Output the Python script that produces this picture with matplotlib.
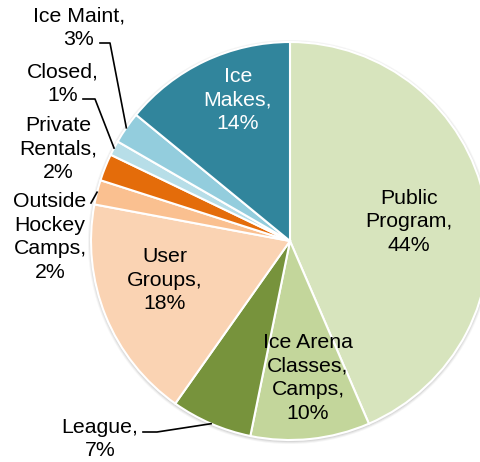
import numpy as np
import matplotlib.pyplot as plt
from matplotlib.patches import Circle

plt.rcParams['font.family'] = ['Liberation Sans', 'DejaVu Sans']

# data (clockwise from 12 o'clock)
categories = ['Public Program', 'Ice Arena Classes, Camps', 'League', 'User Groups',
              'Outside Hockey Camps', 'Private Rentals', 'Closed', 'Ice Maint', 'Ice Makes']
values = [43.6, 9.7, 6.6, 18.2, 2.0, 2.2, 1.2, 2.6, 14.1]
label_texts = ['Public\nProgram,\n44%', 'Ice Arena\nClasses,\nCamps,\n10%', 'League,\n7%',
               'User\nGroups,\n18%', 'Outside\nHockey\nCamps,\n2%', 'Private\nRentals,\n2%',
               'Closed,\n1%', 'Ice Maint,\n3%', 'Ice\nMakes,\n14%']
colors = ['#D7E4BD', '#C3D69B', '#77933C', '#FAD3B3', '#FAC090', '#E46C0A',
          '#B7DEE8', '#93CDDD', '#31859C']

W, H = 481, 462
cx, cy, R = 290, H - 241, 199

fig = plt.figure(figsize=(W / 100, H / 100), dpi=100)
ax = fig.add_axes([0, 0, 1, 1])

# soft shadow round the pie
for dr, a in [(3, 0.15), (2, 0.25), (1, 0.4)]:
    ax.add_patch(Circle((cx, cy - 1), R + dr, color='#bfbfbf', alpha=a, lw=0, zorder=0))

wedges, _ = ax.pie(values, colors=colors, startangle=90, counterclock=False,
                   center=(cx, cy), radius=R,
                   wedgeprops=dict(edgecolor='white', linewidth=1.5))
ax.set_xlim(0, W)
ax.set_ylim(0, H)
ax.axis('off')

# label layout: (x, y from top, leader line?)
label_pos = [(409, 222, False), (308, 378, False), (100, 439, True), (165, 280, False),
             (50, 237, True), (58, 149, False), (63, 84, True), (79, 28, True),
             (238, 100, False)]
leader_start = {2: (143, 432, 157), 4: (91, 203, None), 6: (83, 99, 95), 7: (100, 43, 110)}

for i, (w, txt) in enumerate(zip(wedges, label_texts)):
    x, y, has_line = label_pos[i]
    tcol = 'white' if i == 8 else 'black'
    ax.text(x, H - y, txt, ha='center', va='center', fontsize=15.3, linespacing=1.3,
            color=tcol)
    if has_line:
        mid = np.deg2rad((w.theta1 + w.theta2) / 2)
        ex, ey = cx + R * np.cos(mid), cy + R * np.sin(mid)
        sx, sy, kx = leader_start[i]
        xs, ys = [sx], [H - sy]
        if kx is not None:
            xs.append(kx)
            ys.append(H - sy)
        xs.append(ex)
        ys.append(ey)
        ax.plot(xs, ys, color='black', lw=1.2)

fig.savefig('out.png', dpi=100)
